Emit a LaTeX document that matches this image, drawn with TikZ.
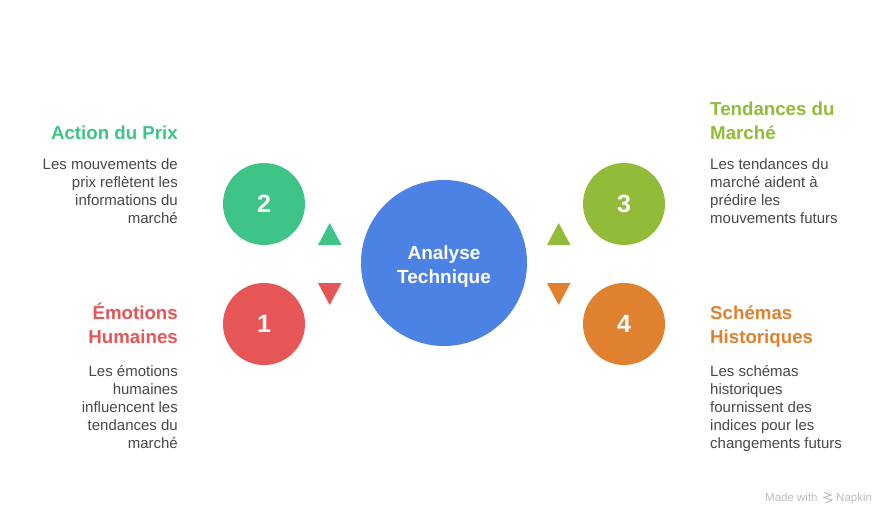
\documentclass[tikz,border=0pt]{standalone}
\usepackage{fontspec}
\setmainfont{Liberation Sans}
\definecolor{cblue}{HTML}{4C82E3}
\definecolor{cgreen}{HTML}{3EC487}
\definecolor{cred}{HTML}{E65656}
\definecolor{colive}{HTML}{92BB3A}
\definecolor{corange}{HTML}{DF812E}
\definecolor{ctext}{HTML}{484848}
\definecolor{cmark}{HTML}{BDBDBD}
\tikzset{
  x=1pt,y=-1pt,
  disc/.style={circle,inner sep=0pt,minimum size=82pt,text=white,font=\fontsize{25}{25}\selectfont\bfseries},
  hub/.style={circle,fill=cblue,inner sep=0pt,minimum size=166pt},
  hubtext/.style={inner sep=0pt,text=white,align=center,font=\fontsize{19}{24}\selectfont\bfseries},
  titleL/.style={anchor=base east,align=right,inner sep=0pt,font=\fontsize{18.7}{24}\selectfont\bfseries},
  titleR/.style={anchor=base west,align=left,inner sep=0pt,font=\fontsize{18.7}{24}\selectfont\bfseries},
  bodyL/.style={anchor=base east,align=right,inner sep=0pt,text=ctext,font=\fontsize{15}{18}\selectfont},
  bodyR/.style={anchor=base west,align=left,inner sep=0pt,text=ctext,font=\fontsize{15}{18}\selectfont}
}
\begin{document}
\begin{tikzpicture}
\useasboundingbox (0,0) rectangle (888,516);
\fill[white] (0,0) rectangle (888,516);
\node[hub] (hub) at (444,263) {};
\node[hubtext,anchor=base] (hl) at (444,283.5) {Analyse\\Technique};
\node[disc,fill=cgreen] (d2) at (264,204) {2};
\node[disc,fill=cred] (d1) at (264,324) {1};
\node[disc,fill=colive] (d3) at (624,204) {3};
\node[disc,fill=corange] (d4) at (624,324) {4};
\fill[cgreen] (318,245) -- (341.5,245) -- (329.7,223) -- cycle;
\fill[cred] (318,283) -- (341.5,283) -- (329.7,305) -- cycle;
\fill[colive] (547,245) -- (570.5,245) -- (558.7,223) -- cycle;
\fill[corange] (547,283) -- (570.5,283) -- (558.7,305) -- cycle;
\node[titleL,text=cgreen] (t2) at (178,139.5) {Action du Prix};
\node[bodyL] (b2) at (178,223.5) {Les mouvements de\\prix reflètent les\\informations du\\marché};
\node[titleL,text=cred] (t1) at (178,343.5) {Émotions\\Humaines};
\node[bodyL] (b1) at (178,448.5) {Les émotions\\humaines\\influencent les\\tendances du\\marché};
\node[titleR,text=colive] (t3) at (710,139.5) {Tendances du\\Marché};
\node[bodyR] (b3) at (710,223.5) {Les tendances du\\marché aident à\\prédire les\\mouvements futurs};
\node[titleR,text=corange] (t4) at (710,343.5) {Schémas\\Historiques};
\node[bodyR] (b4) at (710,448.5) {Les schémas\\historiques\\fournissent des\\indices pour les\\changements futurs};
\node[anchor=base west,inner sep=0pt,text=cmark,font=\fontsize{11.5}{11.5}\selectfont] (m1) at (765,501.5) {Made with};
\node[anchor=base west,inner sep=0pt,text=cmark,font=\fontsize{11.5}{11.5}\selectfont] (m2) at (836,501.5) {Napkin};
\draw[cmark,line width=1pt] (824,492.5) -- (831,495) -- (824,497.5) -- (832,500) -- (825,503);
\end{tikzpicture}
\end{document}
